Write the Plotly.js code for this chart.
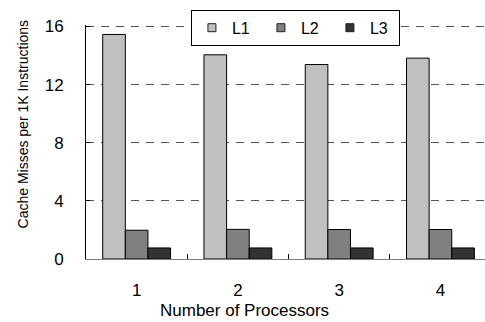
<!DOCTYPE html>
<html>
<head>
<meta charset="utf-8">
<script src="https://cdn.plot.ly/plotly-3.0.1.min.js"></script>
<style>html,body{margin:0;padding:0;background:#fff;}#chart{width:485px;height:322px;}</style>
</head>
<body>
<div id="chart"></div>
<script>
var categories = ["1", "2", "3", "4"];
var seriesNames = ["L1", "L2", "L3"];
var L1 = [15.45, 14.05, 13.38, 13.82];
var L2 = [1.98, 2.04, 2.03, 2.03];
var L3 = [0.76, 0.76, 0.76, 0.76];
var yTicks = [0, 4, 8, 12, 16];
var xTitle = "Number of Processors";
var yTitle = "Cache Misses per 1K Instructions";

var colors = ["#c0c0c0", "#808080", "#333333"];
var values = [L1, L2, L3];
var FONT = "Liberation Sans, Arial, sans-serif";

var traces = [];
values.forEach(function (v, i) {
  traces.push({
    type: "bar", x: categories, y: v, name: seriesNames[i], showlegend: false,
    marker: {color: colors[i], line: {color: "#000", width: 1}}, hoverinfo: "none"
  });
});
values.forEach(function (v, i) {
  traces.push({
    type: "scatter", mode: "markers", x: [null], y: [null], name: seriesNames[i],
    marker: {symbol: "square", size: 8, color: colors[i], line: {color: "#222", width: 1}}
  });
});

var layout = {
  width: 485, height: 322,
  margin: {l: 86, r: 0, t: 25, b: 63, pad: 0},
  paper_bgcolor: "#fff", plot_bgcolor: "#fff",
  font: {family: FONT, color: "#000"},
  barmode: "group", bargap: 0.33, bargroupgap: 0,
  showlegend: true,
  legend: {
    orientation: "h", x: 0.263, xanchor: "left", y: 1.065, yanchor: "top",
    bgcolor: "#fff", bordercolor: "#000", borderwidth: 1,
    font: {family: FONT, size: 16, color: "#000"},
    entrywidth: 24, entrywidthmode: "pixels", traceorder: "normal"
  },
  xaxis: {
    type: "category", range: [-0.5, 3.44], fixedrange: true,
    showline: true, linecolor: "#808080", linewidth: 1,
    ticks: "inside", tickson: "boundaries", ticklen: 5, tickcolor: "#000",
    showgrid: false, zeroline: false,
    tickfont: {family: FONT, size: 17, color: "#000"}, ticklabelstandoff: 16
  },
  yaxis: {
    range: [0, 16.1], tickvals: yTicks, ticktext: yTicks.map(String), fixedrange: true,
    showline: true, linecolor: "#000", linewidth: 1,
    ticks: "inside", ticklen: 4, tickcolor: "#000",
    showgrid: true, gridcolor: "#555", gridwidth: 1, griddash: "8px,7px", zeroline: false,
    tickfont: {family: FONT, size: 17, color: "#000"}, ticklabelstandoff: 18
  },
  annotations: [
    {text: xTitle, xref: "paper", yref: "paper", x: 0.396, y: -0.219, xanchor: "center", yanchor: "middle",
     showarrow: false, font: {family: FONT, size: 17, color: "#000"}},
    {text: yTitle, xref: "paper", yref: "paper", x: -0.158, y: 0.579, xanchor: "center", yanchor: "middle",
     textangle: -90, showarrow: false, font: {family: FONT, size: 14, color: "#000"}}
  ]
};

Plotly.newPlot("chart", traces, layout, {staticPlot: true, displayModeBar: false});
</script>
</body>
</html>
